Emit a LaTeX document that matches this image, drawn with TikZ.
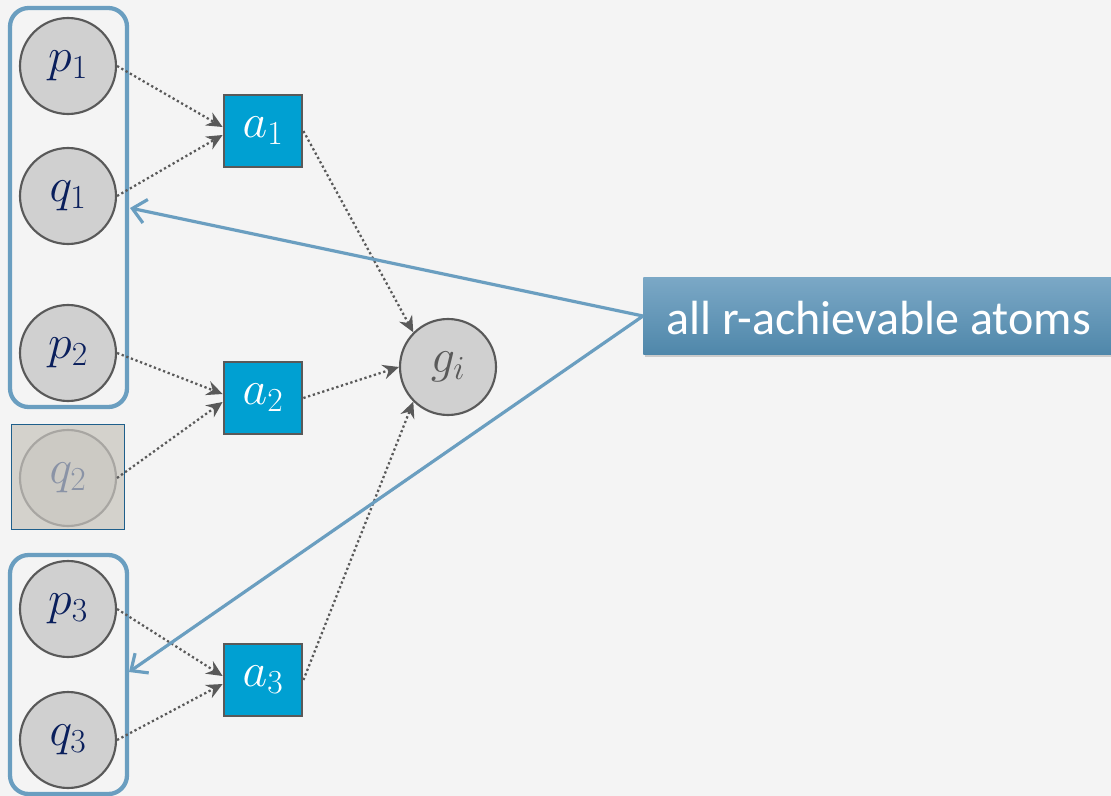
\RequirePackage{fix-cm}
\documentclass[tikz,border=0pt]{standalone}
\usepackage{fontspec}
\setmainfont{Carlito}
\usetikzlibrary{arrows.meta,shadows}
\definecolor{bg}{HTML}{F4F4F4}
\definecolor{circfill}{HTML}{D0D0D0}
\definecolor{circdraw}{HTML}{595959}
\definecolor{navy}{HTML}{0A1F5C}
\definecolor{actfill}{HTML}{00A0D2}
\definecolor{grpblue}{HTML}{6A9EC0}
\definecolor{lbltop}{HTML}{7BA8C6}
\definecolor{lblbot}{HTML}{4F87AA}
\definecolor{ghostfill}{HTML}{D4D2CC}
\definecolor{ghostcirc}{HTML}{CCCAC4}
\definecolor{ghostdraw}{HTML}{A8A6A2}
\definecolor{ghosttext}{HTML}{8A93A6}
\definecolor{ghostbox}{HTML}{1F5F8B}
\tikzset{
  atom/.style={circle,draw=circdraw,fill=circfill,line width=1.6pt,minimum size=72pt,inner sep=0pt,text=navy,font=\fontsize{36}{40}\selectfont},
  act/.style={rectangle,draw=circdraw,fill=actfill,line width=1.6pt,minimum width=59pt,minimum height=54pt,inner sep=0pt,text=white,font=\fontsize{36}{40}\selectfont},
  dep/.style={draw=circdraw,line width=1.7pt,dotted,-{Stealth[length=12pt,width=11pt,inset=4pt]}},
  grp/.style={draw=grpblue,line width=3.2pt,rounded corners=14pt},
  ptr/.style={draw=grpblue,line width=2.4pt,-{Straight Barb[length=10pt,width=18pt,line width=2.4pt]}},
}
\begin{document}
\begin{tikzpicture}[x=0.75pt,y=-0.75pt]
\fill[bg] (0,0) rectangle (1111,796);
\useasboundingbox (0,0) rectangle (1111,796);
% groups
\draw[grp] (10,8) rectangle (127,407);
\draw[grp] (10,555) rectangle (127,794);
% ghost box
\node[rectangle,draw=ghostbox,fill=ghostfill,line width=0.8pt,minimum width=85pt,minimum height=79pt,inner sep=0pt] (q2box) at (68,477) {};
% atoms
\node[atom] (p1) at (68,66) {$p_1$};
\node[atom] (q1) at (68,196) {$q_1$};
\node[atom] (p2) at (68,353) {$p_2$};
\node[atom,fill=ghostcirc,draw=ghostdraw,text=ghosttext] (q2) at (68,478) {$q_2$};
\node[atom] (p3) at (68,609) {$p_3$};
\node[atom] (q3) at (68,740) {$q_3$};
\node[atom,text=circdraw] (g) at (448,367) {$g_i$};
% actions
\node[act] (a1) at (263,131) {$a_1$};
\node[act] (a2) at (263,398) {$a_2$};
\node[act] (a3) at (263,680) {$a_3$};
% dependency arrows
\draw[dep] (p1.east) -- ([yshift=3pt]a1.west);
\draw[dep] (q1.east) -- ([yshift=-3pt]a1.west);
\draw[dep] (a1.east) -- (g.north west);
\draw[dep] (p2.east) -- ([yshift=3pt]a2.west);
\draw[dep] (q2.east) -- ([yshift=-3pt]a2.west);
\draw[dep] (a2.east) -- (g.west);
\draw[dep] (p3.east) -- ([yshift=3pt]a3.west);
\draw[dep] (q3.east) -- ([yshift=-3pt]a3.west);
\draw[dep] (a3.east) -- (g.south west);
% label
\node[rectangle,top color=lbltop,bottom color=lblbot,minimum height=58pt,minimum width=360pt,inner sep=0pt,anchor=west,drop shadow={shadow xshift=1.5pt,shadow yshift=-2pt,opacity=0.35}] (lbl) at (643,316) {};
\node[anchor=west,text=white,font=\fontsize{36}{40}\selectfont,inner sep=0pt] (lbltxt) at (666,318) {all r-achievable atoms};
\coordinate (t1) at (130,208);
\coordinate (t2) at (129,672);
\draw[ptr] (lbl.west) -- (t1);
\draw[ptr] (lbl.west) -- (t2);
\end{tikzpicture}
\end{document}
